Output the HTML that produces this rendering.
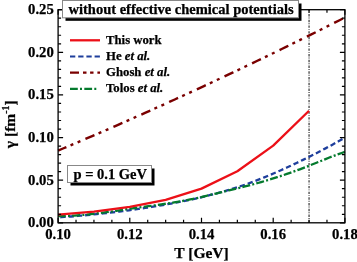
<!DOCTYPE html>
<html><head><meta charset="utf-8"><style>
html,body{margin:0;padding:0;background:#fff;}
svg{display:block;will-change:transform;}
text{font-family:"Liberation Serif",serif;font-weight:bold;stroke:#000;stroke-width:0.25px;}
</style></head><body>
<svg width="357" height="262" viewBox="0 0 357 262">
<rect width="357" height="262" fill="#fff"/>
<g font-size="14.7" fill="#000"><text x="53.8" y="227.30" text-anchor="end">0.00</text><text x="53.8" y="184.68" text-anchor="end">0.05</text><text x="53.8" y="142.06" text-anchor="end">0.10</text><text x="53.8" y="99.44" text-anchor="end">0.15</text><text x="53.8" y="56.82" text-anchor="end">0.20</text><text x="53.8" y="14.20" text-anchor="end">0.25</text><text x="58.10" y="238.6" text-anchor="middle">0.10</text><text x="129.80" y="238.6" text-anchor="middle">0.12</text><text x="201.50" y="238.6" text-anchor="middle">0.14</text><text x="273.20" y="238.6" text-anchor="middle">0.16</text><text x="344.90" y="238.6" text-anchor="middle">0.18</text></g>
<text x="201.5" y="258" font-size="15.5" text-anchor="middle">T [GeV]</text>
<text transform="translate(15.3,124.2) rotate(-90)" font-size="15.5" text-anchor="middle">γ [fm<tspan font-size="10" dy="-6">-1</tspan><tspan dy="6">]</tspan></text>
<line x1="309.05" y1="9.7" x2="309.05" y2="222.8" stroke="#222" stroke-width="1.1" stroke-dasharray="2.4 1.1 0.9 1.33" stroke-dashoffset="1.43"/>
<polyline points="58.10,150.56 62.96,148.51 67.82,146.46 72.68,144.40 77.54,142.33 82.41,140.26 87.27,138.18 92.13,136.09 96.99,133.99 101.85,131.89 106.71,129.78 111.57,127.66 116.43,125.54 121.29,123.40 126.15,121.26 131.02,119.12 135.88,116.96 140.74,114.80 145.60,112.63 150.46,110.46 155.32,108.28 160.18,106.09 165.04,103.89 169.90,101.68 174.76,99.47 179.63,97.25 184.49,95.03 189.35,92.79 194.21,90.55 199.07,88.31 203.93,86.05 208.79,83.79 213.65,81.52 218.51,79.24 223.37,76.96 228.24,74.67 233.10,72.37 237.96,70.06 242.82,67.75 247.68,65.43 252.54,63.10 257.40,60.77 262.26,58.43 267.12,56.08 271.98,53.72 276.85,51.36 281.71,48.99 286.57,46.61 291.43,44.22 296.29,41.83 301.15,39.43 306.01,37.02 310.87,34.61 315.73,32.19 320.59,29.76 325.46,27.32 330.32,24.88 335.18,22.43 340.04,19.97 344.90,17.51" fill="none" stroke="#7A0000" stroke-width="2.4" stroke-dasharray="9.8 4.5 3 4.7 3 5.5" stroke-dashoffset="0.8"/>
<polyline points="58.10,217.44 61.32,217.21 64.54,216.97 67.77,216.73 70.99,216.48 74.21,216.22 77.43,215.94 80.66,215.67 83.88,215.38 87.10,215.08 90.32,214.77 93.55,214.45 96.77,214.13 99.99,213.79 103.21,213.44 106.44,213.09 109.66,212.72 112.88,212.34 116.10,211.95 119.33,211.56 122.55,211.15 125.77,210.73 128.99,210.29 132.22,209.85 135.44,209.39 138.66,208.93 141.88,208.45 145.11,207.96 148.33,207.46 151.55,206.94 154.77,206.42 158.00,205.88 161.22,205.33 164.44,204.76 167.66,204.18 170.89,203.59 174.11,202.99 177.33,202.37 180.55,201.74 183.78,201.09 187.00,200.42 190.22,199.74 193.44,199.04 196.67,198.32 199.89,197.58 203.11,196.82 206.33,196.04 209.56,195.23 212.78,194.40 216.00,193.55 219.22,192.67 222.45,191.77 225.67,190.84 228.89,189.88 232.11,188.90 235.34,187.89 238.56,186.84 241.78,185.77 245.00,184.66 248.23,183.52 251.45,182.35 254.67,181.15 257.89,179.91 261.12,178.64 264.34,177.34 267.56,176.01 270.78,174.65 274.01,173.27 277.23,171.86 280.45,170.43 283.67,168.98 286.90,167.51 290.12,166.02 293.34,164.51 296.56,162.98 299.79,161.44 303.01,159.88 306.23,158.30 309.45,156.70 312.68,155.08 315.90,153.44 319.12,151.77 322.34,150.09 325.57,148.38 328.79,146.65 332.01,144.89 335.23,143.11 338.46,141.30 341.68,139.46 344.90,137.60" fill="none" stroke="#1E3E9C" stroke-width="2.3" stroke-dasharray="5.3 3" stroke-dashoffset="-2.2"/>
<polyline points="58.10,216.11 61.32,216.09 64.54,216.02 67.77,215.91 70.99,215.77 74.21,215.58 77.43,215.37 80.66,215.11 83.88,214.83 87.10,214.52 90.32,214.19 93.55,213.83 96.77,213.45 99.99,213.05 103.21,212.63 106.44,212.20 109.66,211.75 112.88,211.30 116.10,210.83 119.33,210.36 122.55,209.89 125.77,209.41 128.99,208.94 132.22,208.46 135.44,208.00 138.66,207.54 141.88,207.08 145.11,206.64 148.33,206.20 151.55,205.77 154.77,205.33 158.00,204.88 161.22,204.43 164.44,203.96 167.66,203.48 170.89,202.97 174.11,202.45 177.33,201.90 180.55,201.33 183.78,200.74 187.00,200.12 190.22,199.48 193.44,198.82 196.67,198.13 199.89,197.42 203.11,196.68 206.33,195.92 209.56,195.14 212.78,194.35 216.00,193.56 219.22,192.75 222.45,191.95 225.67,191.16 228.89,190.37 232.11,189.59 235.34,188.80 238.56,188.01 241.78,187.22 245.00,186.41 248.23,185.59 251.45,184.75 254.67,183.88 257.89,183.00 261.12,182.09 264.34,181.16 267.56,180.20 270.78,179.22 274.01,178.21 277.23,177.18 280.45,176.13 283.67,175.05 286.90,173.95 290.12,172.83 293.34,171.68 296.56,170.51 299.79,169.31 303.01,168.09 306.23,166.85 309.45,165.58 312.68,164.29 315.90,162.99 319.12,161.68 322.34,160.37 325.57,159.07 328.79,157.79 332.01,156.53 335.23,155.31 338.46,154.12 341.68,152.99 344.90,151.91" fill="none" stroke="#047A2D" stroke-width="2.3" stroke-dasharray="8 2.2 2 2.2" stroke-dashoffset="0.3"/>
<polyline points="58.10,214.60 93.95,211.70 129.80,206.80 165.65,199.80 201.50,188.60 237.35,171.20 273.20,145.60 309.05,110.70" fill="none" stroke="#EC1018" stroke-width="2.3" stroke-linejoin="round"/>
<path d="M58.10,222.8v-5M58.10,9.7v5M76.03,222.8v-3M76.03,9.7v3M93.95,222.8v-3M93.95,9.7v3M111.88,222.8v-3M111.88,9.7v3M129.80,222.8v-5M129.80,9.7v5M147.72,222.8v-3M147.72,9.7v3M165.65,222.8v-3M165.65,9.7v3M183.57,222.8v-3M183.57,9.7v3M201.50,222.8v-5M201.50,9.7v5M219.42,222.8v-3M219.42,9.7v3M237.35,222.8v-3M237.35,9.7v3M255.27,222.8v-3M255.27,9.7v3M273.20,222.8v-5M273.20,9.7v5M291.12,222.8v-3M291.12,9.7v3M309.05,222.8v-3M309.05,9.7v3M326.97,222.8v-3M326.97,9.7v3M344.90,222.8v-5M344.90,9.7v5M58.1,222.80h5M344.9,222.80h-5M58.1,214.28h3M344.9,214.28h-3M58.1,205.75h3M344.9,205.75h-3M58.1,197.23h3M344.9,197.23h-3M58.1,188.70h3M344.9,188.70h-3M58.1,180.18h5M344.9,180.18h-5M58.1,171.66h3M344.9,171.66h-3M58.1,163.13h3M344.9,163.13h-3M58.1,154.61h3M344.9,154.61h-3M58.1,146.08h3M344.9,146.08h-3M58.1,137.56h5M344.9,137.56h-5M58.1,129.04h3M344.9,129.04h-3M58.1,120.51h3M344.9,120.51h-3M58.1,111.99h3M344.9,111.99h-3M58.1,103.46h3M344.9,103.46h-3M58.1,94.94h5M344.9,94.94h-5M58.1,86.42h3M344.9,86.42h-3M58.1,77.89h3M344.9,77.89h-3M58.1,69.37h3M344.9,69.37h-3M58.1,60.84h3M344.9,60.84h-3M58.1,52.32h5M344.9,52.32h-5M58.1,43.80h3M344.9,43.80h-3M58.1,35.27h3M344.9,35.27h-3M58.1,26.75h3M344.9,26.75h-3M58.1,18.22h3M344.9,18.22h-3M58.1,9.70h5M344.9,9.70h-5" stroke="#000" stroke-width="1.2" fill="none"/>
<rect x="58.1" y="9.7" width="286.80" height="213.10" fill="none" stroke="#000" stroke-width="1.3"/>
<line x1="70" y1="40.3" x2="100" y2="40.3" stroke="#EC1018" stroke-width="2.3"/>
<line x1="70" y1="56.5" x2="100" y2="56.5" stroke="#1E3E9C" stroke-width="2.2" stroke-dasharray="5.3 2.9"/>
<line x1="70" y1="72.6" x2="100" y2="72.6" stroke="#7A0000" stroke-width="2.3" stroke-dasharray="9 4 3.5 3.6 3.4 3.9"/>
<line x1="70" y1="88.8" x2="97" y2="88.8" stroke="#047A2D" stroke-width="2.3" stroke-dasharray="7.8 2.2 2 2.3"/>
<g font-size="12.75" fill="#000">
<text x="106" y="44">This work</text>
<text x="106" y="60">He <tspan font-style="italic">et al.</tspan></text>
<text x="106" y="76">Ghosh <tspan font-style="italic">et al.</tspan></text>
<text x="106" y="92">Tolos <tspan font-style="italic">et al.</tspan></text>
</g>
<rect x="65.5" y="3.5" width="236" height="17.3" fill="#000"/>
<rect x="62.5" y="0.5" width="236" height="17.3" fill="#fff" stroke="#888" stroke-width="1"/>
<text x="68.5" y="14.4" font-size="14.5">without effective chemical potentials</text>
<rect x="70.5" y="168.5" width="84" height="17" fill="#000"/>
<rect x="67.5" y="165.5" width="84" height="17" fill="#fff" stroke="#888" stroke-width="1"/>
<text x="73.5" y="179" font-size="14.5">p = 0.1 GeV</text>
</svg>
</body></html>
